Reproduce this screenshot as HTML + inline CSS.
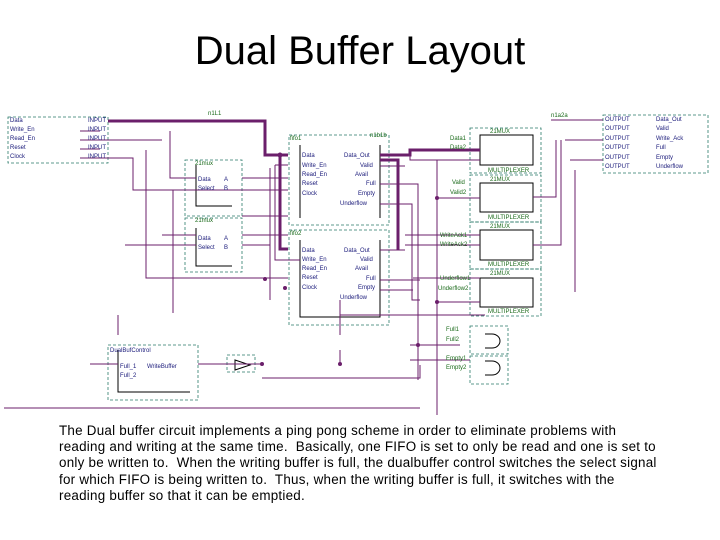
<!DOCTYPE html>
<html><head><meta charset="utf-8"><style>
body{margin:0;width:720px;height:540px;background:#fff;overflow:hidden;font-family:"Liberation Sans",sans-serif;position:relative}
h1{position:absolute;top:29px;left:0;width:720px;text-align:center;margin:0;font-weight:normal;font-size:40px;color:#000}
p{position:absolute;left:59px;top:423px;width:660px;margin:0;font-size:13.4px;letter-spacing:0.25px;line-height:16.2px;color:#000;white-space:nowrap}
svg{position:absolute;left:0;top:0}
</style></head><body>
<h1>Dual Buffer Layout</h1>
<svg width="720" height="420" font-family="Liberation Sans" font-size="6">
<g fill="none" stroke="#2a7a6a" stroke-width="0.8" stroke-dasharray="3,2">
<rect x="8" y="117" width="100" height="46"/>
<rect x="185" y="160" width="57" height="56"/>
<rect x="185" y="218" width="57" height="54"/>
<rect x="289" y="135" width="100" height="90"/>
<rect x="289" y="230" width="100" height="95"/>
<rect x="470" y="128" width="71" height="45"/>
<rect x="470" y="175" width="71" height="47"/>
<rect x="470" y="222" width="71" height="47"/>
<rect x="470" y="269" width="71" height="47"/>
<rect x="603" y="115" width="105" height="58"/>
<rect x="108" y="345" width="90" height="55"/>
<rect x="227" y="355" width="28" height="17"/>
<rect x="470" y="326" width="38" height="28"/>
<rect x="470" y="356" width="38" height="28"/>
</g>
<g fill="none" stroke="#000" stroke-width="1">
<path d="M196,165V206H232M196,228V266H232"/>
<path d="M300,145V218M300,240V317H380V240M380,145V218"/>
<rect x="480" y="135" width="53" height="30"/><rect x="480" y="183" width="53" height="29"/>
<rect x="480" y="230" width="53" height="30"/><rect x="480" y="278" width="53" height="29"/>
<path d="M118,350V392H190"/>
<path d="M235,360L250,365L235,370Z"/>
<path d="M485,334H492A8,7 0 0 1 492,348H485M485,361H492A8,7 0 0 1 492,375H485"/>
</g>
<g fill="none" stroke="#6b1f6b" stroke-width="1">
<path d="M108,121H265M80,131H100M80,140H162M80,149H100M80,158H133V190H288"/>
<path d="M170,131V178H196M146,150V278H288M242,178H288M242,216H288M242,235H288M242,245H270V260"/>
<path d="M275,165H288M275,165V260H300M270,168V300M173,190V313M162,235H196M125,245H196"/>
<path d="M380,166H405M380,184H418V380M380,204H412V300H420M380,250H405M380,280H420M380,290H413"/>
<path d="M410,155V160H480M437,160V415M437,198H480M405,235H480M405,245H480M413,278H480M437,302H480"/>
<path d="M533,197H556V140M533,245H561V140M551,120H603M565,140H603M570,160H603M575,170V292"/>
<path d="M118,315V335M340,300V335M340,315H485M90,364H118M198,364H255M340,364V350M255,364H262M262,378H420V365M410,345H460M410,360H470M4,408H420"/>
</g>
<g fill="none" stroke="#6b1f6b" stroke-width="3">
<path d="M108,121H265V155H288M280,155V249H288M380,155H410V150H480M380,160H398V250"/>
</g>
<g fill="#6b1f6b"><circle cx="280" cy="155" r="2.5"/><circle cx="265" cy="279" r="2"/><circle cx="285" cy="288" r="2"/><circle cx="437" cy="198" r="2"/><circle cx="437" cy="302" r="2"/><circle cx="340" cy="364" r="2"/><circle cx="262" cy="364" r="2"/><circle cx="418" cy="345" r="2"/></g>
<g fill="#1a1a7a">
<text x="10" y="122">Data</text><text x="10" y="131">Write_En</text><text x="10" y="140">Read_En</text><text x="10" y="149">Reset</text><text x="10" y="158">Clock</text>
<text x="88" y="122">INPUT</text><text x="88" y="131">INPUT</text><text x="88" y="140">INPUT</text><text x="88" y="149">INPUT</text><text x="88" y="158">INPUT</text>
<text x="198" y="181">Data</text><text x="198" y="190">Select</text><text x="224" y="181">A</text><text x="224" y="190">B</text>
<text x="198" y="240">Data</text><text x="198" y="249">Select</text><text x="224" y="240">A</text><text x="224" y="249">B</text>
<text x="302" y="157">Data</text><text x="302" y="167">Write_En</text><text x="302" y="176">Read_En</text><text x="302" y="185">Reset</text><text x="302" y="195">Clock</text>
<text x="344" y="157">Data_Out</text><text x="360" y="167">Valid</text><text x="355" y="176">Avail</text><text x="366" y="185">Full</text><text x="358" y="195">Empty</text><text x="340" y="205">Underflow</text>
<text x="302" y="252">Data</text><text x="302" y="261">Write_En</text><text x="302" y="270">Read_En</text><text x="302" y="279">Reset</text><text x="302" y="289">Clock</text>
<text x="344" y="252">Data_Out</text><text x="360" y="261">Valid</text><text x="355" y="270">Avail</text><text x="366" y="280">Full</text><text x="358" y="289">Empty</text><text x="340" y="299">Underflow</text>
<text x="605" y="121">OUTPUT</text><text x="605" y="130">OUTPUT</text><text x="605" y="140">OUTPUT</text><text x="605" y="149">OUTPUT</text><text x="605" y="159">OUTPUT</text><text x="605" y="168">OUTPUT</text>
<text x="656" y="121">Data_Out</text><text x="656" y="130">Valid</text><text x="656" y="140">Write_Ack</text><text x="656" y="149">Full</text><text x="656" y="159">Empty</text><text x="656" y="168">Underflow</text>
<text x="110" y="352">DualBufControl</text><text x="120" y="368">Full_1</text><text x="120" y="377">Full_2</text><text x="147" y="368">WriteBuffer</text>
</g>
<g fill="#1a6a1a">
<text x="195" y="165">21mux</text><text x="195" y="222">21mux</text><text x="290" y="140">fifo1</text><text x="290" y="235">fifo2</text>
<text x="490" y="133">21MUX</text><text x="490" y="181">21MUX</text><text x="490" y="228">21MUX</text><text x="490" y="275">21MUX</text>
<text x="488" y="172">MULTIPLEXER</text><text x="488" y="219">MULTIPLEXER</text><text x="488" y="266">MULTIPLEXER</text><text x="488" y="313">MULTIPLEXER</text>
<text x="450" y="140">Data1</text><text x="450" y="149">Data2</text><text x="452" y="184">Valid</text><text x="450" y="194">Valid2</text>
<text x="440" y="237">WriteAck1</text><text x="440" y="246">WriteAck2</text><text x="440" y="280">Underflow1</text><text x="438" y="290">Underflow2</text>
<text x="446" y="331">Full1</text><text x="446" y="341">Full2</text><text x="446" y="360">Empty1</text><text x="446" y="369">Empty2</text>
<text x="208" y="115">n1L1</text><text x="370" y="137">n1b1b</text><text x="551" y="117">n1a2a</text>
</g>
</svg>
<p>The Dual buffer circuit implements a ping pong scheme in order to eliminate problems with<br>reading and writing at the same time.&nbsp; Basically, one FIFO is set to only be read and one is set to<br>only be written to.&nbsp; When the writing buffer is full, the dualbuffer control switches the select signal<br>for which FIFO is being written to.&nbsp; Thus, when the writing buffer is full, it switches with the<br>reading buffer so that it can be emptied.</p>
</body></html>
